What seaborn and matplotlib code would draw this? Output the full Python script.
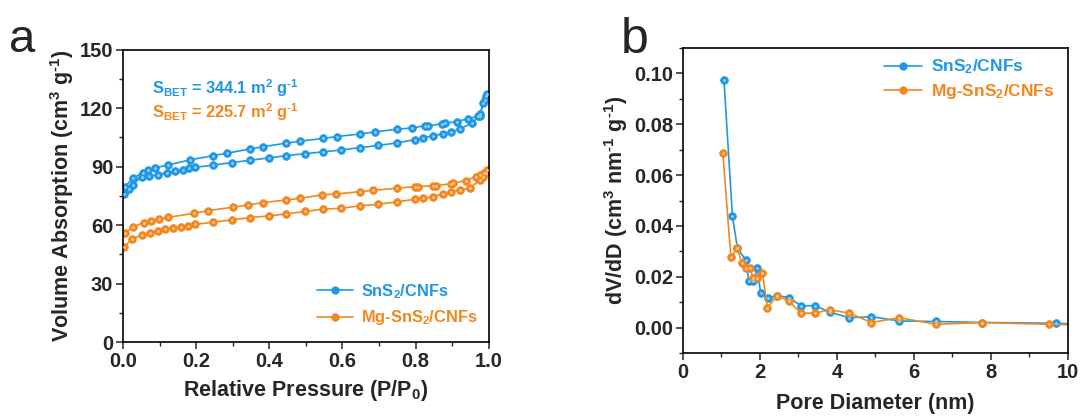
import numpy as np
import pandas as pd
import matplotlib
matplotlib.use("Agg")
import matplotlib.pyplot as plt
from matplotlib.ticker import MultipleLocator, FormatStrFormatter
from matplotlib.lines import Line2D
import matplotlib.colors as mcolors
import seaborn as sns

# ---------------- data ----------------
# Panel a: N2 isotherms (adsorption then desorption branch)
sn_ads_p = [0.003, 0.015, 0.026, 0.051, 0.072, 0.097, 0.119, 0.142, 0.163, 0.181, 0.197,
            0.247, 0.297, 0.347, 0.398, 0.447, 0.497, 0.547, 0.597, 0.648, 0.698, 0.748,
            0.798, 0.821, 0.848, 0.875, 0.898, 0.921, 0.953, 0.975, 0.985, 0.992]
sn_ads_v = [76.0, 78.6, 80.7, 84.9, 85.3, 85.8, 87.0, 87.8, 88.4, 89.2, 89.7,
            90.8, 92.1, 93.3, 94.5, 95.7, 96.7, 97.6, 98.6, 99.8, 100.9, 102.2,
            103.9, 104.8, 106.0, 106.8, 107.7, 109.4, 112.3, 116.1, 122.6, 126.5]
sn_des_p = [0.996, 0.990, 0.975, 0.970, 0.944, 0.912, 0.880, 0.871, 0.834, 0.825, 0.789,
            0.748, 0.689, 0.648, 0.586, 0.547, 0.484, 0.447, 0.383, 0.347, 0.283, 0.247,
            0.183, 0.124, 0.087, 0.069, 0.054, 0.028, 0.005]
sn_des_v = [127.5, 124.0, 117.1, 115.8, 114.6, 113.2, 112.3, 112.0, 111.0, 111.0, 109.9,
            109.2, 107.9, 106.8, 105.5, 104.5, 103.1, 102.1, 100.3, 99.1, 96.9, 95.7,
            93.5, 90.9, 89.4, 88.4, 87.0, 84.1, 79.8]

mg_ads_p = [0.003, 0.024, 0.051, 0.074, 0.097, 0.115, 0.136, 0.158, 0.179, 0.197,
            0.247, 0.297, 0.347, 0.398, 0.447, 0.497, 0.547, 0.597, 0.648, 0.698, 0.748,
            0.798, 0.821, 0.848, 0.875, 0.898, 0.921, 0.948, 0.975, 0.985, 0.993]
mg_ads_v = [49.0, 52.7, 55.0, 56.2, 57.2, 57.9, 58.4, 59.2, 59.8, 60.4,
            61.5, 62.7, 63.9, 64.7, 65.8, 67.0, 68.2, 68.7, 69.9, 70.7, 71.9,
            73.3, 73.8, 74.7, 76.0, 77.2, 78.1, 78.9, 83.2, 84.9, 87.0]
mg_des_p = [0.996, 0.986, 0.975, 0.966, 0.937, 0.903, 0.896, 0.857, 0.848, 0.807, 0.798,
            0.748, 0.684, 0.648, 0.582, 0.543, 0.484, 0.447, 0.383, 0.343, 0.300, 0.233,
            0.194, 0.124, 0.099, 0.076, 0.056, 0.026, 0.005]
mg_des_v = [88.4, 86.6, 85.8, 84.9, 82.9, 81.5, 81.2, 80.3, 80.3, 79.8, 79.8,
            78.9, 77.9, 77.2, 76.0, 75.5, 73.8, 72.9, 71.6, 70.4, 69.2, 67.5,
            66.1, 64.0, 63.2, 62.3, 61.3, 58.9, 55.8]

# Panel b: pore size distribution
sn_d = [1.07, 1.29, 1.42, 1.63, 1.72, 1.83, 1.94, 2.02, 2.22, 2.46, 2.76, 3.07, 3.43,
        3.82, 4.32, 4.90, 5.62, 6.57, 7.78, 9.70, 10.4]
sn_dv = [0.0974, 0.0438, 0.0313, 0.0267, 0.0184, 0.0184, 0.0234, 0.0136, 0.0118, 0.0126,
         0.0118, 0.0086, 0.0086, 0.0061, 0.0039, 0.0043, 0.0026, 0.0024, 0.0020, 0.0017, 0.0012]
mg_d = [1.04, 1.25, 1.42, 1.53, 1.63, 1.75, 1.82, 1.92, 2.07, 2.20, 2.46, 2.76, 3.07,
        3.43, 3.82, 4.32, 4.90, 5.62, 6.57, 7.78, 9.51, 10.4]
mg_dv = [0.0688, 0.0276, 0.0313, 0.0254, 0.0234, 0.0234, 0.0197, 0.0197, 0.0214, 0.0079,
         0.0126, 0.0103, 0.0057, 0.0057, 0.0070, 0.0057, 0.0020, 0.0039, 0.0013, 0.0020,
         0.0013, 0.0010]

labels = [r"SnS$_2$/CNFs", r"Mg-SnS$_2$/CNFs"]
colors = ["#1E97E6", "#F3871E"]
sbet = ["344.1", "225.7"]

# ---------------- style ----------------
sns.set_theme(style="ticks")
plt.rcParams["font.family"] = ["Liberation Sans", "DejaVu Sans"]
plt.rcParams["font.weight"] = "bold"
plt.rcParams["mathtext.fontset"] = "custom"
plt.rcParams["mathtext.rm"] = "Liberation Sans:bold"
plt.rcParams["mathtext.bf"] = "Liberation Sans:bold"
plt.rcParams["mathtext.it"] = "Liberation Sans:bold"
plt.rcParams["axes.linewidth"] = 1.2

fig = plt.figure(figsize=(10.82, 4.18), dpi=100)
axa = fig.add_axes([0.1137, 0.1818, 0.338, 0.699])
axb = fig.add_axes([0.631, 0.1555, 0.356, 0.7295])

mk = dict(marker="o", markersize=5.5, markeredgewidth=0.6, linewidth=1.2)


def light(c, f=0.55):
    r, g, b = mcolors.to_rgb(c)
    return (r + (1 - r) * f, g + (1 - g) * f, b + (1 - b) * f)


def branch(ax, p, v, color):
    df = pd.DataFrame({"x": p, "y": v})
    sns.lineplot(data=df, x="x", y="y", ax=ax, sort=False, estimator=None,
                 color=color, markeredgecolor=color, **mk)
    sns.scatterplot(data=df, x="x", y="y", ax=ax, color=light(color), s=4,
                    linewidth=0, zorder=5, clip_on=True)


branch(axa, sn_ads_p, sn_ads_v, colors[0])
branch(axa, sn_des_p, sn_des_v, colors[0])
branch(axa, mg_ads_p, mg_ads_v, colors[1])
branch(axa, mg_des_p, mg_des_v, colors[1])

branch(axb, sn_d, sn_dv, colors[0])
branch(axb, mg_d, mg_dv, colors[1])

tick_fs = 14.5
lab_fs = 15.5

for ax in (axa, axb):
    ax.tick_params(axis="both", which="major", direction="out", length=5, width=1.1,
                   labelsize=tick_fs, pad=2, top=False, right=False)
    ax.tick_params(axis="both", which="minor", direction="out", length=3, width=1.0,
                   top=False, right=False)
    for s in ax.spines.values():
        s.set_visible(True)
        s.set_color("black")
        s.set_linewidth(1.2)

axa.set_xlim(0, 1.0)
axa.set_ylim(0, 150)
axa.xaxis.set_major_locator(MultipleLocator(0.2))
axa.xaxis.set_minor_locator(MultipleLocator(0.1))
axa.yaxis.set_major_locator(MultipleLocator(30))
axa.yaxis.set_minor_locator(MultipleLocator(15))
axa.xaxis.set_major_formatter(FormatStrFormatter("%.1f"))
axa.set_xlabel(r"Relative Pressure (P/P$_0$)", fontsize=lab_fs, fontweight="bold", labelpad=5)
axa.set_ylabel(r"Volume Absorption (cm$^3$ g$^{\text{-}1}$)", fontsize=lab_fs,
               fontweight="bold", labelpad=3)

axb.set_xlim(0, 10)
axb.set_ylim(-0.01, 0.11)
axb.xaxis.set_major_locator(MultipleLocator(2))
axb.xaxis.set_minor_locator(MultipleLocator(1))
axb.yaxis.set_major_locator(MultipleLocator(0.02))
axb.yaxis.set_minor_locator(MultipleLocator(0.01))
axb.yaxis.set_major_formatter(FormatStrFormatter("%.2f"))
axb.set_xlabel("Pore Diameter (nm)", fontsize=lab_fs, fontweight="bold", labelpad=8)
axb.set_ylabel(r"dV/dD (cm$^3$ nm$^{\text{-}1}$ g$^{\text{-}1}$)", fontsize=lab_fs,
               fontweight="bold", labelpad=3)

for ax in (axa, axb):
    for lab in ax.get_xticklabels() + ax.get_yticklabels():
        lab.set_fontweight("bold")

handles = [Line2D([], [], color=c, marker="o", markersize=5, linewidth=1.2,
                  markerfacecolor=c) for c in colors]
axa.legend(handles, labels, loc="lower right", bbox_to_anchor=(1.01, 0.0), frameon=False,
           labelcolor=colors, prop={"weight": "bold", "size": 11.8}, numpoints=1,
           handlelength=2.2, handletextpad=0.5, labelspacing=0.45)
axb.legend(handles, labels, loc="upper right", bbox_to_anchor=(1.005, 1.02), frameon=False,
           labelcolor=colors, prop={"weight": "bold", "size": 12.5}, numpoints=1,
           handlelength=2.2, handletextpad=0.5, labelspacing=0.35)

for i, (val, c) in enumerate(zip(sbet, colors)):
    axa.text(0.079, [0.870, 0.788][i],
             r"S$_{\mathrm{BET}}$ = " + val + r" m$^2$ g$^{\text{-}1}$",
             transform=axa.transAxes, color=c, fontsize=11.8, fontweight="bold",
             va="center", ha="left")

fig.text(0.008, 0.905, "a", fontsize=34, fontweight="normal", va="center", ha="left")
fig.text(0.574, 0.905, "b", fontsize=36, fontweight="normal", va="center", ha="left")

fig.savefig("out.png", dpi=100)
